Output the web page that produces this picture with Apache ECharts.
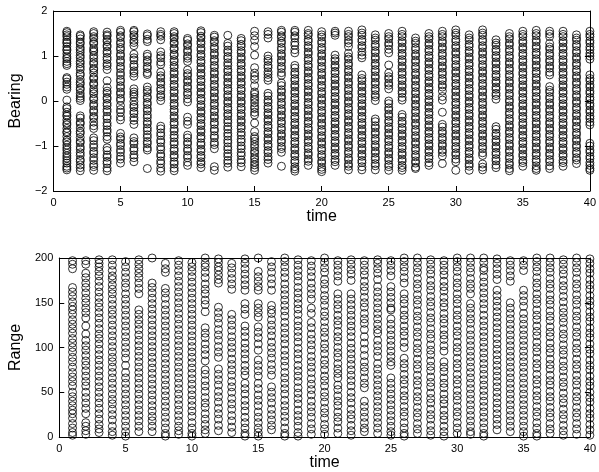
<!DOCTYPE html>
<html>
<head>
<meta charset="utf-8">
<script src="https://cdn.jsdelivr.net/npm/echarts@6/dist/echarts.min.js"></script>
<style>
  html, body { margin: 0; padding: 0; background: #fff; }
  #chart { width: 599px; height: 472px; }
</style>
</head>
<body>
<div id="chart"></div>
<script>
// Measurement scans: one list of bearings (rad) and one of ranges per time step.
const times = [1,2,3,4,5,6,7,8,9,10,11,12,13,14,15,16,17,18,19,20,21,22,23,24,25,26,27,28,29,30,31,32,33,34,35,36,37,38,39,40];

const timeTicks = [0, 5, 10, 15, 20, 25, 30, 35, 40];
const bearingTicks = [-2, -1, 0, 1, 2];
const rangeTicks = [0, 50, 100, 150, 200];

const bearing = [
  [1.55,1.52,1.47,1.43,1.36,1.31,1.28,1.21,1.15,1.12,1.05,0.98,0.94,0.88,0.83,0.79,0.52,0.49,0.42,0.37,0.31,0.26,0.02,-0.13,-0.17,-0.25,-0.31,-0.34,-0.42,-0.49,-0.53,-0.61,-0.68,-0.71,-0.79,-0.87,-0.91,-0.98,-1.04,-1.09,-1.16,-1.22,-1.27,-1.33,-1.38,-1.45,-1.49,-1.53],
  [1.47,1.44,1.38,1.31,1.27,1.19,1.14,1.08,1.01,0.96,0.88,0.83,0.76,0.70,0.61,0.57,0.48,0.41,0.37,0.29,0.25,0.17,0.11,0.06,0.01,-0.33,-0.38,-0.47,-0.51,-0.60,-0.68,-0.72,-0.81,-0.89,-0.93,-1.02,-1.07,-1.15,-1.21,-1.30,-1.34,-1.42,-1.48,-1.55],
  [1.54,1.50,1.43,1.39,1.31,1.27,1.18,1.13,1.09,1.01,0.95,0.87,0.82,0.73,0.69,0.62,0.53,0.49,0.40,0.36,0.27,0.21,0.16,0.07,0.03,-0.06,-0.11,-0.20,-0.25,-0.34,-0.38,-0.47,-0.55,-0.61,-0.82,-0.88,-0.97,-1.03,-1.12,-1.17,-1.26,-1.32,-1.41,-1.46,-1.54],
  [1.53,1.47,1.44,1.36,1.32,1.24,1.20,1.11,1.06,0.97,0.92,0.83,0.78,0.70,0.45,0.30,0.22,0.17,0.08,0.04,-0.05,-0.10,-0.19,-0.24,-0.34,-0.39,-0.49,-0.55,-0.64,-0.69,-0.79,-0.85,-1.04,-1.10,-1.20,-1.25,-1.34,-1.39,-1.49,-1.55],
  [1.57,1.53,1.45,1.41,1.32,1.27,1.19,1.14,1.05,1.00,0.91,0.86,0.77,0.72,0.63,0.57,0.48,0.43,0.34,0.29,0.20,0.15,0.06,0.01,-0.10,-0.19,-0.25,-0.35,-0.42,-0.72,-0.80,-0.85,-0.94,-0.99,-1.08,-1.14,-1.23,-1.29,-1.38],
  [1.57,1.54,1.47,1.43,1.35,1.30,1.23,1.04,0.96,0.91,0.81,0.76,0.67,0.62,0.55,0.27,0.20,0.15,0.09,-0.01,-0.09,-0.14,-0.23,-0.28,-0.37,-0.43,-0.52,-0.82,-0.90,-0.95,-1.05,-1.10,-1.20,-1.26,-1.35],
  [1.49,1.45,1.37,1.32,1.04,0.99,0.91,0.86,0.77,0.72,0.63,0.59,0.31,0.24,0.19,0.10,0.06,-0.03,-0.08,-0.17,-0.22,-0.31,-0.37,-0.46,-0.51,-0.60,-0.66,-0.75,-0.81,-0.90,-0.95,-1.04,-1.09,-1.50],
  [1.54,1.48,1.44,1.36,1.09,1.01,0.96,0.87,0.81,0.64,0.56,0.51,0.42,0.37,0.28,0.23,0.14,0.09,0.01,-0.56,-0.62,-0.71,-0.77,-0.87,-0.92,-1.02,-1.08,-1.18,-1.23,-1.33,-1.39,-1.49,-1.56],
  [1.54,1.50,1.43,1.39,1.31,1.27,1.18,1.14,1.05,1.01,0.92,0.87,0.79,0.74,0.65,0.60,0.51,0.46,0.37,0.32,0.23,0.18,0.09,0.04,-0.05,-0.10,-0.19,-0.24,-0.33,-0.38,-0.47,-0.52,-0.62,-0.67,-0.76,-0.82,-0.91,-0.96,-1.06,-1.11,-1.20,-1.25,-1.35,-1.40,-1.49,-1.55],
  [1.39,1.35,1.27,1.23,1.14,1.09,1.00,0.95,0.88,0.69,0.61,0.56,0.47,0.42,0.33,0.28,0.19,0.14,0.05,-0.02,-0.36,-0.45,-0.52,-0.76,-0.82,-0.91,-0.96,-1.06,-1.11,-1.21,-1.26,-1.36,-1.43],
  [1.56,1.52,1.44,1.40,1.32,1.27,1.18,1.13,1.04,0.99,0.90,0.85,0.76,0.71,0.62,0.57,0.48,0.43,0.34,0.29,0.20,0.15,0.06,0.01,-0.08,-0.13,-0.22,-0.27,-0.36,-0.41,-0.50,-0.55,-0.64,-0.69,-0.78,-0.83,-0.93,-0.98,-1.07,-1.12,-1.21,-1.26,-1.35,-1.40,-1.48],
  [1.46,1.42,1.34,1.30,1.21,1.16,1.07,1.02,0.93,0.88,0.79,0.74,0.65,0.60,0.51,0.46,0.37,0.32,0.23,0.18,0.09,0.04,-0.05,-0.10,-0.19,-0.24,-0.33,-0.38,-0.47,-0.52,-0.62,-0.67,-0.77,-0.82,-0.92,-0.97,-1.06,-1.46,-1.54],
  [1.46,1.28,1.22,1.13,1.08,0.99,0.94,0.85,0.79,0.70,0.65,0.56,0.51,0.42,0.37,0.28,0.23,0.14,0.09,0.00,-0.05,-0.14,-0.19,-0.28,-0.33,-0.42,-0.48,-0.57,-0.63,-0.72,-0.78,-0.87,-0.93,-1.02,-1.08,-1.17,-1.23,-1.32,-1.38,-1.47],
  [1.39,1.34,1.26,1.21,1.12,1.07,0.98,0.93,0.84,0.79,0.70,0.65,0.56,0.51,0.42,0.37,0.28,0.23,0.14,0.09,0.00,-0.05,-0.14,-0.19,-0.28,-0.33,-0.42,-0.47,-0.56,-0.61,-0.70,-0.76,-0.85,-0.91,-1.00,-1.06,-1.15,-1.21,-1.31,-1.37,-1.46],
  [1.55,1.45,1.35,1.21,1.02,0.74,0.62,0.55,0.48,0.34,0.20,0.15,0.08,0.03,-0.04,-0.12,-0.17,-0.25,-0.31,-0.49,-0.68,-0.79,-0.84,-0.90,-0.97,-1.03,-1.11,-1.16,-1.24,-1.29,-1.36,-1.42,-1.48,-1.54],
  [1.54,1.48,1.40,1.00,0.93,0.88,0.79,0.74,0.65,0.59,0.52,0.46,0.17,0.11,0.02,-0.03,-0.12,-0.17,-0.26,-0.31,-0.40,-0.45,-0.54,-0.59,-0.68,-0.73,-0.82,-0.87,-0.96,-1.01,-1.10,-1.15,-1.24,-1.30,-1.38],
  [1.57,1.53,1.45,1.41,1.33,1.28,1.19,1.14,1.05,1.00,0.91,0.86,0.77,0.72,0.63,0.57,0.40,0.34,0.25,0.20,0.11,0.06,-0.03,-0.08,-0.17,-0.22,-0.31,-0.36,-0.45,-0.50,-0.59,-0.64,-0.73,-0.78,-0.87,-0.92,-1.01,-1.06,-1.14,-1.45],
  [1.57,1.53,1.45,1.40,1.30,1.24,1.14,1.07,0.79,0.73,0.64,0.59,0.50,0.45,0.36,0.31,0.22,0.17,0.08,0.03,-0.06,-0.11,-0.20,-0.25,-0.34,-0.39,-0.48,-0.53,-0.62,-0.67,-0.76,-0.81,-0.90,-0.95,-1.04,-1.09,-1.18,-1.23,-1.32,-1.37,-1.46,-1.51,-1.56],
  [1.57,1.50,1.46,1.37,1.32,1.23,1.18,1.09,1.04,0.95,0.90,0.81,0.76,0.67,0.62,0.53,0.48,0.39,0.34,0.25,0.20,0.11,0.06,-0.03,-0.08,-0.17,-0.22,-0.31,-0.36,-0.45,-0.50,-0.59,-0.64,-0.73,-0.78,-0.87,-0.92,-1.01,-1.06,-1.15,-1.20,-1.29,-1.34,-1.43],
  [1.54,1.47,1.42,1.33,1.28,1.19,1.14,1.05,1.00,0.91,0.86,0.77,0.72,0.63,0.58,0.49,0.44,0.35,0.30,0.21,0.16,0.07,0.02,-0.07,-0.12,-0.21,-0.26,-0.35,-0.40,-0.49,-0.54,-0.63,-0.68,-0.77,-0.82,-0.91,-0.96,-1.05,-1.10,-1.19,-1.24,-1.33,-1.38,-1.47,-1.52,-1.57],
  [1.55,1.51,1.46,1.02,0.94,0.89,0.80,0.75,0.66,0.61,0.52,0.47,0.38,0.33,0.24,0.19,0.10,0.05,-0.04,-0.09,-0.18,-0.23,-0.32,-0.37,-0.46,-0.51,-0.60,-0.65,-0.74,-0.79,-0.88,-0.93,-1.02,-1.07,-1.16,-1.21,-1.30,-1.35,-1.43],
  [1.55,1.48,1.43,1.35,1.29,1.21,1.06,0.98,0.93,0.84,0.79,0.70,0.65,0.56,0.51,0.42,0.37,0.28,0.23,0.14,0.09,0.00,-0.05,-0.14,-0.19,-0.28,-0.33,-0.42,-0.47,-0.56,-0.61,-0.70,-0.75,-0.84,-0.89,-0.98,-1.03,-1.12,-1.17,-1.26,-1.31,-1.40,-1.45,-1.53],
  [1.58,1.51,1.46,1.37,1.32,1.23,1.18,1.09,1.02,0.96,0.58,0.50,0.45,0.36,0.31,0.22,0.17,0.08,0.03,-0.06,-0.11,-0.20,-0.25,-0.34,-0.39,-0.48,-0.53,-0.62,-0.67,-0.76,-0.81,-0.90,-0.95,-1.04,-1.09,-1.18,-1.23,-1.32,-1.37,-1.46,-1.53],
  [1.47,1.40,1.35,1.26,1.21,1.12,1.07,0.98,0.93,0.84,0.79,0.70,0.65,0.56,0.51,0.42,0.37,0.28,0.23,0.14,0.09,0.01,-0.40,-0.46,-0.55,-0.60,-0.69,-0.74,-0.83,-0.88,-0.97,-1.02,-1.11,-1.16,-1.25,-1.30,-1.39,-1.44,-1.53],
  [1.50,1.43,1.38,1.29,1.24,1.15,1.07,0.80,0.62,0.54,0.49,0.40,0.35,0.27,0.00,-0.06,-0.15,-0.20,-0.29,-0.34,-0.43,-0.48,-0.57,-0.62,-0.71,-0.76,-0.85,-0.90,-0.99,-1.04,-1.13,-1.18,-1.27,-1.32,-1.41,-1.46,-1.54],
  [1.55,1.48,1.43,1.34,1.29,1.20,1.15,1.06,1.01,0.92,0.87,0.78,0.73,0.64,0.59,0.50,0.45,0.36,0.31,0.22,0.17,0.08,0.02,-0.30,-0.36,-0.45,-0.50,-0.59,-0.64,-0.73,-0.78,-0.87,-0.92,-1.01,-1.06,-1.15,-1.20,-1.29,-1.34,-1.43,-1.48,-1.54],
  [1.40,1.33,1.28,1.19,1.14,1.05,1.00,0.91,0.86,0.77,0.72,0.63,0.58,0.49,0.44,0.35,0.30,0.21,0.16,0.07,0.02,-0.07,-0.12,-0.21,-0.26,-0.35,-0.40,-0.49,-0.54,-0.63,-0.68,-0.77,-0.82,-0.91,-0.96,-1.05,-1.10,-1.19,-1.24,-1.33,-1.38,-1.47,-1.50],
  [1.50,1.43,1.38,1.29,1.24,1.15,1.10,1.01,0.96,0.87,0.82,0.73,0.68,0.59,0.54,0.45,0.40,0.31,0.26,0.17,0.12,0.03,-0.02,-0.11,-0.16,-0.25,-0.30,-0.39,-0.44,-0.53,-0.58,-0.67,-0.72,-0.81,-0.86,-0.95,-1.00,-1.09,-1.14,-1.23,-1.28,-1.37,-1.43],
  [1.55,1.48,1.43,1.34,1.29,1.20,1.15,1.06,1.01,0.92,0.87,0.78,0.73,0.64,0.59,0.50,0.45,0.36,0.31,0.22,0.10,0.02,-0.25,-0.52,-0.58,-0.67,-0.72,-0.81,-0.86,-0.95,-1.00,-1.09,-1.14,-1.22,-1.39],
  [1.58,1.51,1.46,1.37,1.32,1.23,1.18,1.09,1.04,0.95,0.90,0.81,0.76,0.67,0.62,0.53,0.48,0.39,0.34,0.25,0.20,0.11,0.06,-0.03,-0.08,-0.17,-0.22,-0.31,-0.36,-0.45,-0.50,-0.59,-0.64,-0.73,-0.78,-0.87,-0.92,-1.01,-1.06,-1.15,-1.20,-1.29,-1.35,-1.54],
  [1.47,1.40,1.35,1.26,1.21,1.12,1.07,0.98,0.93,0.84,0.79,0.70,0.65,0.56,0.51,0.42,0.37,0.28,0.23,0.14,0.09,0.00,-0.05,-0.14,-0.19,-0.28,-0.33,-0.42,-0.47,-0.56,-0.61,-0.70,-0.75,-0.84,-0.89,-0.98,-1.03,-1.12,-1.17,-1.26,-1.31,-1.40,-1.45,-1.54],
  [1.58,1.51,1.46,1.37,1.32,1.23,1.18,1.09,1.04,0.95,0.90,0.81,0.76,0.67,0.62,0.53,0.48,0.39,0.34,0.25,0.20,0.11,0.06,-0.03,-0.08,-0.17,-0.22,-0.31,-0.36,-0.45,-0.50,-0.59,-0.64,-0.73,-0.78,-0.87,-0.92,-1.01,-1.06,-1.15,-1.21,-1.40,-1.47,-1.53],
  [1.36,1.29,1.24,1.15,1.10,1.01,0.96,0.87,0.82,0.73,0.68,0.59,0.54,0.45,0.40,0.31,0.26,0.17,0.12,0.04,-0.57,-0.63,-0.72,-0.77,-0.86,-0.91,-1.00,-1.05,-1.14,-1.19,-1.28,-1.33,-1.42,-1.48],
  [1.50,1.43,1.38,1.29,1.24,1.15,1.10,1.01,0.96,0.87,0.82,0.73,0.68,0.59,0.54,0.45,0.40,0.31,0.26,0.17,0.12,0.03,-0.02,-0.11,-0.16,-0.25,-0.30,-0.39,-0.44,-0.53,-0.58,-0.67,-0.72,-0.81,-0.86,-0.95,-1.00,-1.09,-1.14,-1.23,-1.28,-1.37,-1.42,-1.50,-1.55],
  [1.55,1.48,1.43,1.34,1.29,1.20,1.15,1.06,1.01,0.92,0.87,0.78,0.73,0.64,0.59,0.50,0.45,0.36,0.31,0.22,0.17,0.08,0.03,-0.06,-0.11,-0.20,-0.25,-0.34,-0.39,-0.48,-0.53,-0.62,-0.67,-0.76,-0.81,-0.90,-0.95,-1.04,-1.09,-1.18,-1.23,-1.32,-1.37,-1.45],
  [1.57,1.50,1.45,1.36,1.31,1.22,1.17,1.08,1.03,0.94,0.89,0.80,0.75,0.66,0.61,0.52,0.47,0.38,0.33,0.24,0.19,0.10,0.05,-0.04,-0.09,-0.18,-0.23,-0.32,-0.37,-0.46,-0.51,-0.60,-0.65,-0.74,-0.79,-0.88,-0.93,-1.02,-1.07,-1.16,-1.21,-1.30,-1.35,-1.44,-1.50,-1.54],
  [1.55,1.49,1.43,1.28,1.20,1.15,1.06,1.01,0.92,0.87,0.78,0.73,0.64,0.58,0.32,0.24,0.19,0.10,0.05,-0.04,-0.09,-0.18,-0.23,-0.32,-0.37,-0.46,-0.51,-0.60,-0.65,-0.74,-0.79,-0.88,-0.93,-1.02,-1.07,-1.16,-1.21,-1.30,-1.35,-1.44,-1.50],
  [1.55,1.48,1.43,1.34,1.29,1.20,1.15,1.06,1.01,0.92,0.87,0.78,0.73,0.64,0.59,0.50,0.45,0.36,0.31,0.22,0.17,0.08,0.03,-0.06,-0.11,-0.20,-0.25,-0.34,-0.39,-0.48,-0.53,-0.62,-0.67,-0.76,-0.81,-0.90,-0.95,-1.04,-1.09,-1.18,-1.23,-1.32,-1.37,-1.45],
  [1.47,1.40,1.35,1.26,1.21,1.12,1.07,0.98,0.93,0.84,0.79,0.70,0.65,0.56,0.51,0.42,0.37,0.28,0.23,0.14,0.09,0.00,-0.05,-0.14,-0.19,-0.28,-0.33,-0.42,-0.47,-0.56,-0.61,-0.70,-0.75,-0.84,-0.89,-0.98,-1.03,-1.12,-1.17,-1.26,-1.31,-1.39],
  [1.55,1.48,1.43,1.34,1.29,1.20,1.14,1.06,1.00,0.93,0.58,0.50,0.45,0.36,0.31,0.22,0.17,0.08,0.03,-0.06,-0.11,-0.20,-0.25,-0.34,-0.39,-0.47,-0.53,-0.94,-1.00,-1.09,-1.14,-1.23,-1.28,-1.37,-1.43,-1.50,-1.54]
];

const range = [
  [197,193,188,167,162,157,151,146,142,137,131,126,121,116,110,105,100,95,89,84,78,72,67,62,57,50,45,40,35,30,26,21,15,10,5,2],
  [197,193,183,178,172,167,161,155,150,144,139,133,124,115,108,102,97,91,85,80,74,68,62,57,50,44,38,32,26,16,12,7,3],
  [198,194,190,185,180,174,168,162,156,150,145,139,133,127,121,115,110,104,98,92,86,80,74,68,62,56,50,44,38,32,26,20,14,9,5],
  [198,192,186,180,176,170,165,160,154,148,142,137,131,125,119,113,107,101,95,89,84,78,72,66,60,54,48,42,37,31,25,19,12,6,2],
  [196,190,184,178,172,167,160,154,148,142,136,130,124,118,112,106,100,94,88,80,72,66,60,54,48,42,36,30,24,18,12,6,1],
  [198,193,188,183,178,172,166,160,142,137,131,126,120,114,108,102,96,90,84,78,72,66,60,54,48,42,36,30,24,18,12,6],
  [200,172,167,161,155,149,143,137,131,125,119,113,107,101,95,89,83,77,71,65,59,53,47,41,35,29,23,18,12,6],
  [194,188,184,166,161,155,148,142,136,130,124,118,112,106,100,94,88,82,76,70,64,58,52,46,40,34,28,22,16,10,4,1],
  [197,192,186,180,174,168,162,156,150,144,138,132,126,120,114,108,102,96,90,84,78,72,66,60,54,48,42,36,30,24,18,12,7,3],
  [195,190,185,179,173,167,161,155,149,143,137,131,125,119,113,107,101,95,89,83,77,71,65,59,53,47,41,35,29,23,16,10,4,1],
  [200,194,190,184,178,171,165,160,153,148,140,122,116,111,104,98,92,85,75,70,63,57,51,44,38,33,26,20,14,8,4],
  [199,195,190,186,181,176,172,145,139,133,127,120,114,108,101,95,89,76,70,64,58,51,45,39,32,26,20,13,7],
  [194,189,183,177,171,165,137,131,125,119,112,106,100,94,87,81,75,69,62,56,50,43,37,31,24,18,11,5],
  [199,194,188,182,176,170,164,149,143,137,124,118,112,105,99,93,87,80,74,69,60,54,48,41,35,29,22,16,10,4,1],
  [200,185,179,174,168,164,149,144,139,134,123,117,111,104,97,86,80,74,68,60,54,47,41,35,28,22,16,10,5,1],
  [196,190,184,177,171,164,147,142,138,131,125,119,113,106,100,94,88,81,75,69,56,50,44,38,31,25,19,13,8],
  [200,196,190,184,178,171,165,159,153,147,141,135,128,122,116,110,104,97,91,85,79,72,66,60,54,48,41,35,29,23,17,10,4,1],
  [198,192,186,180,174,167,161,155,149,143,137,130,124,118,112,106,99,93,87,80,74,68,62,55,49,43,37,30,24,18,12,5,1],
  [197,191,185,179,172,166,160,154,144,138,128,122,115,109,103,97,90,84,78,72,65,59,53,47,40,34,28,22,15,9,3],
  [200,195,189,184,176,171,165,158,153,147,140,135,129,122,117,111,104,99,93,86,81,75,68,63,57,50,45,39,32,27,21,14,9,3],
  [197,192,186,180,174,160,154,148,143,136,130,125,118,112,107,100,94,89,82,76,71,66,58,53,46,40,35,28,22,17,10,4],
  [198,193,187,182,175,160,154,148,142,136,130,124,118,112,105,99,93,87,81,75,69,63,57,50,44,38,31,25,20,13,7,2],
  [197,192,186,181,174,168,163,156,150,145,138,132,127,120,112,105,98,91,84,78,73,66,60,55,40,34,28,22,16,10,6],
  [198,194,188,183,176,168,162,156,150,144,138,132,126,120,116,108,102,96,90,82,76,70,64,58,52,46,40,34,28,22,16,10,4],
  [197,192,186,180,168,162,156,150,144,142,132,126,120,114,108,102,96,90,84,80,66,60,54,48,42,36,30,24,18,12,6,2],
  [200,196,190,185,178,172,160,154,149,142,136,131,124,118,113,106,100,88,82,77,70,64,59,52,46,41,34,28,23,16,10,4,1],
  [200,195,189,184,177,171,166,159,153,148,141,135,130,123,117,112,105,99,94,87,81,76,69,63,58,51,45,40,33,27,22,15,9,4],
  [198,193,187,182,175,169,164,157,151,146,139,133,128,121,115,110,103,97,92,85,79,74,67,61,56,49,43,38,31,25,20,13,7,2],
  [197,192,186,181,174,168,163,156,150,145,138,132,127,120,114,109,102,96,84,78,73,66,60,55,48,42,37,30,24,19,12,6,1],
  [200,196,190,185,178,172,167,160,154,149,142,136,131,124,118,113,106,100,95,88,82,77,70,64,59,52,46,41,34,28,23,16,10,4],
  [200,195,189,184,177,171,166,160,149,144,138,132,127,120,114,108,102,96,90,84,78,72,66,60,54,48,42,36,30,24,18,12,6,3],
  [200,195,189,186,179,173,167,161,155,149,143,136,130,124,118,112,106,100,94,88,82,76,70,64,58,52,46,40,34,28,22,16,10,4,1],
  [199,194,188,182,176,164,158,152,146,140,134,128,122,116,110,104,98,92,86,80,74,68,62,56,50,44,38,32,26,20,14,8],
  [197,192,186,180,174,150,144,138,132,126,120,114,108,102,96,90,84,78,72,66,60,54,48,42,36,30,24,18,12,6],
  [197,192,186,164,158,152,146,138,132,126,120,114,108,102,96,90,84,78,72,66,60,54,48,42,36,30,24,18,12,6,1],
  [200,196,190,185,178,172,167,160,154,149,142,136,131,124,118,113,106,100,95,88,82,77,70,64,59,52,46,41,34,28,23,16,10,4,1],
  [200,195,189,184,177,171,166,159,153,148,141,135,130,123,117,112,105,99,94,87,81,76,69,63,58,51,45,40,33,27,22,15,9,4],
  [198,193,187,182,175,169,164,157,151,144,139,133,128,121,115,110,103,97,92,85,79,74,67,61,56,49,43,38,31,25,20,13,7,2],
  [200,195,189,184,177,171,166,159,153,148,141,135,130,123,117,112,105,99,94,87,81,76,69,63,58,51,45,40,33,27,22,15,9,3],
  [199,194,188,183,176,170,165,158,152,147,140,134,129,122,116,111,104,98,93,86,80,75,68,62,57,50,44,39,32,26,21,14,8,2]
];

// Flatten the per-step lists into [time, value] pairs for the scatter series.
function pairs(cols) {
  const out = [];
  cols.forEach((vals, i) => vals.forEach(v => out.push([times[i], v])));
  return out;
}

const FONT = '"Liberation Sans", Arial, Helvetica, sans-serif';
const minus = v => (v < 0 ? '\u2212' + Math.abs(v) : String(v));

function xAxes(gridIndex, ticks) {
  const common = {
    gridIndex, type: 'value', min: ticks[0], max: ticks[ticks.length - 1],
    interval: ticks[1] - ticks[0],
    axisLine: { show: true, onZero: false, lineStyle: { color: '#000', width: 1 } },
    axisTick: { show: true, inside: true, length: 5, lineStyle: { color: '#000', width: 1 } },
    splitLine: { show: false }
  };
  return [
    Object.assign({}, common, {
      position: 'bottom',
      name: 'time', nameLocation: 'middle', nameGap: 17,
      nameTextStyle: { fontFamily: FONT, fontSize: 16, color: '#000', verticalAlign: 'top' },
      axisLabel: { show: true, fontFamily: FONT, fontSize: 11, color: '#000', margin: 6 }
    }),
    Object.assign({}, common, { position: 'top', axisLabel: { show: false } })
  ];
}

function yAxes(gridIndex, ticks, name, gap) {
  const common = {
    gridIndex, type: 'value', min: ticks[0], max: ticks[ticks.length - 1],
    interval: ticks[1] - ticks[0],
    axisLine: { show: true, onZero: false, lineStyle: { color: '#000', width: 1 } },
    axisTick: { show: true, inside: true, length: 5, lineStyle: { color: '#000', width: 1 } },
    splitLine: { show: false }
  };
  return [
    Object.assign({}, common, {
      position: 'left',
      name, nameLocation: 'middle', nameGap: gap, nameRotate: 90,
      nameTextStyle: { fontFamily: FONT, fontSize: 16, color: '#000' },
      axisLabel: { show: true, fontFamily: FONT, fontSize: 11, color: '#000', margin: 6, formatter: minus }
    }),
    Object.assign({}, common, { position: 'right', axisLabel: { show: false } })
  ];
}

const marker = {
  type: 'scatter', symbol: 'circle', symbolSize: 8,
  itemStyle: { color: 'rgba(0,0,0,0)', borderColor: '#000', borderWidth: 1 },
  emphasis: { disabled: true }, silent: true, progressive: 0, clip: false
};

const chart = echarts.init(document.getElementById('chart'), null, { renderer: 'canvas' });
chart.setOption({
  animation: false,
  backgroundColor: '#fff',
  grid: [
    { left: 53, top: 11, width: 540, height: 180, containLabel: false },
    { left: 53, top: 258, width: 540, height: 179, containLabel: false }
  ],
  xAxis: [...xAxes(0, timeTicks), ...xAxes(1, timeTicks)],
  yAxis: [...yAxes(0, bearingTicks, 'Bearing', 22), ...yAxes(1, rangeTicks, 'Range', 32)],
  series: [
    Object.assign({}, marker, { name: 'Bearing', xAxisIndex: 0, yAxisIndex: 0, data: pairs(bearing) }),
    Object.assign({}, marker, { name: 'Range', xAxisIndex: 2, yAxisIndex: 2, data: pairs(range) })
  ]
});
</script>
</body>
</html>
